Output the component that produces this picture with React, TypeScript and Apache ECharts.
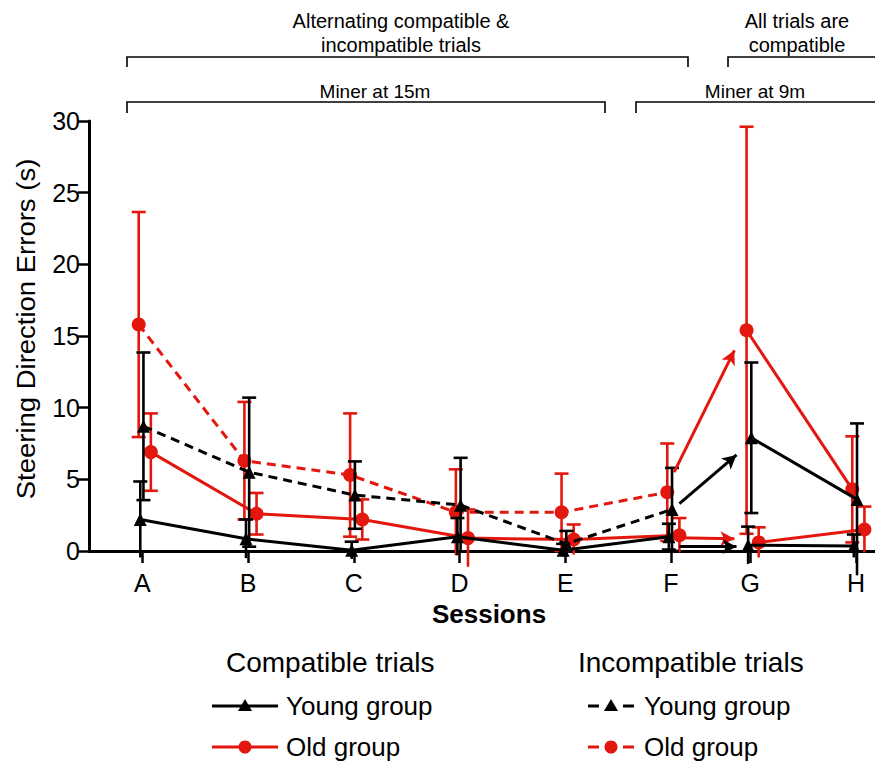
import React, { useEffect, useRef } from "react";
import * as echarts from "echarts";

// ---------- data ----------
const sessions = ["A", "B", "C", "D", "E", "F", "G", "H"];
const sessionPos = [0, 1, 2, 3, 4, 5, 5.75, 6.75];
const yTicks = [0, 5, 10, 15, 20, 25, 30];

// Sessions A–F
const compatYoungMean = [2.2, 0.85, 0.05, 1.0, 0.05, 1.0];
const compatYoungErr = [2.65, 1.35, 0.6, 1.3, 0.45, 0.9];
const compatOldMean = [6.9, 2.6, 2.2, 0.9, 0.8, 1.1];
const compatOldErr = [2.7, 1.45, 1.4, 2.0, 1.05, 1.2];
const incompYoungMean = [8.7, 5.5, 3.9, 3.2, 0.5, 2.9];
const incompYoungErr = [5.15, 5.2, 2.35, 3.3, 0.9, 2.9];
const incompOldMean = [15.8, 6.3, 5.3, 2.7, 2.7, 4.1];
const incompOldErr = [7.85, 4.1, 4.3, 3.0, 2.7, 3.4];

// Sessions G–H (all trials compatible)
const ghYoungHighMean = [7.9, 3.6];
const ghYoungHighErr = [5.25, 5.3];
const ghOldHighMean = [15.4, 4.3];
const ghOldHighErr = [14.2, 3.7];
const ghOldLowMean = [0.6, 1.5];
const ghOldLowErr = [1.05, 1.6];
const ghYoungLowMean = [0.4, 0.35];
const ghYoungLowErr = [1.3, 0.8];

// Arrows from F toward G
const arrowStartX = [5.03, 5.08, 5.05, 5.08];
const arrowStartY = [5.5, 3.3, 0.92, 0.33];
const arrowEndX = [5.6, 5.62, 5.6, 5.62];
const arrowEndY = [14.0, 6.7, 0.85, 0.3];
const arrowIsRed = [true, false, true, false];

// ---------- styles ----------
const RED = "#E3170D";
const BLACK = "#000000";
const FONT = "Liberation Sans, Arial, Helvetica, sans-serif";
const OFF_INC_OLD = -0.035;
const OFF_INC_YOUNG = 0.01;
const OFF_COMP_OLD = 0.08;
const OFF_COMP_YOUNG = -0.02;

function pts(idx: number[], means: number[], off: number) {
  return means.map((m, i) => [sessionPos[idx[i]] + off, m]);
}
function errPts(idx: number[], means: number[], errs: number[], off: number) {
  return means.map((m, i) => [sessionPos[idx[i]] + off, m - errs[i], m + errs[i]]);
}

function errorSeries(data: number[][], color: string, z: number) {
  return {
    type: "custom",
    data,
    z,
    clip: false,
    silent: true,
    renderItem: (params: any, api: any) => {
      const x = api.value(0);
      const lo = api.value(1);
      const hi = api.value(2);
      const pLo = api.coord([x, lo]);
      const pHi = api.coord([x, hi]);
      const hw = 7;
      const style = { stroke: color, lineWidth: 2.6 };
      const children: any[] = [
        { type: "line", shape: { x1: pLo[0], y1: pLo[1], x2: pHi[0], y2: pHi[1] }, style },
        { type: "line", shape: { x1: pHi[0] - hw, y1: pHi[1], x2: pHi[0] + hw, y2: pHi[1] }, style },
      ];
      if (lo >= 0) {
        children.push({ type: "line", shape: { x1: pLo[0] - hw, y1: pLo[1], x2: pLo[0] + hw, y2: pLo[1] }, style });
      }
      return { type: "group", children };
    },
  };
}

function lineSeries(data: number[][], color: string, dashed: boolean, symbol: string, z: number, markLine?: any) {
  const s: any = {
    type: "line",
    data,
    z,
    symbol,
    symbolSize: symbol === "triangle" ? 13 : 14,
    showSymbol: true,
    clip: false,
    itemStyle: { color },
    lineStyle: { color, width: 3, type: dashed ? [9, 6] : "solid" },
    silent: true,
  };
  if (markLine) s.markLine = markLine;
  return s;
}

const idxAF = [0, 1, 2, 3, 4, 5];
const idxGH = [6, 7];

function arrowMark(red: boolean) {
  const data: any[] = [];
  arrowStartX.forEach((sx, i) => {
    if (arrowIsRed[i] !== red) return;
    data.push([
      { coord: [sx, arrowStartY[i]] },
      { coord: [arrowEndX[i], arrowEndY[i]] },
    ]);
  });
  return {
    silent: true,
    symbol: ["none", "arrow"],
    symbolSize: [11, 14],
    label: { show: false },
    lineStyle: { color: red ? RED : BLACK, width: 3, type: "solid" },
    data,
  };
}

export default function App() {
  const ref = useRef<HTMLDivElement>(null);
  useEffect(() => {
    if (!ref.current) return;
    const chart = echarts.init(ref.current, undefined, { renderer: "svg" });

    const txt = (text: string, x: number, y: number, size: number, align = "center", extra: any = {}) => ({
      type: "text",
      x,
      y,
      ...extra,
      style: {
        text,
        fontFamily: FONT,
        fontSize: size,
        fill: "#000",
        align,
        verticalAlign: "middle",
        ...(extra.style || {}),
      },
    });
    const bracket = (points: number[][]) => ({
      type: "polyline",
      shape: { points },
      style: { stroke: "#000", lineWidth: 1.6, fill: "none" },
    });
    const lline = (x1: number, x2: number, y: number, color: string, dash?: number[]) => ({
      type: "line",
      shape: { x1, y1: y, x2, y2: y },
      style: { stroke: color, lineWidth: 3, lineDash: dash },
    });
    const tri = (cx: number, cy: number) => ({
      type: "polygon",
      shape: { points: [[cx, cy - 7], [cx - 7, cy + 5], [cx + 7, cy + 5]] },
      style: { fill: BLACK },
    });
    const dot = (cx: number, cy: number) => ({
      type: "circle",
      shape: { cx, cy, r: 6.5 },
      style: { fill: RED },
    });

    const graphic: any[] = [
      // top annotations
      txt("Alternating compatible &", 401, 21, 20),
      txt("incompatible trials", 401, 45, 20),
      bracket([[127, 67], [127, 57], [688, 57], [688, 67]]),
      txt("All trials are", 797, 21, 20),
      txt("compatible", 797, 45, 20),
      bracket([[728, 67], [728, 57], [876, 57]]),
      txt("Miner at 15m", 375, 91, 19),
      bracket([[127, 113], [127, 102], [605, 102], [605, 113]]),
      txt("Miner at 9m", 755, 91, 19),
      bracket([[636, 113], [636, 102], [876, 102]]),
      // axis titles
      txt("Steering Direction Errors (s)", 26, 329, 25, "center", { rotation: Math.PI / 2, scaleX: 1.1 }),
      txt("Sessions", 489, 614, 26, "center", { style: { fontWeight: "bold" } }),
      // legend
      txt("Compatible trials", 226, 662, 28, "left"),
      lline(212, 278, 706, BLACK),
      tri(245, 706),
      txt("Young group", 286, 706, 26, "left"),
      lline(212, 278, 747, RED),
      dot(245, 747),
      txt("Old group", 286, 747, 26, "left"),
      txt("Incompatible trials", 578, 662, 28, "left"),
      lline(588, 599, 706, BLACK),
      lline(623, 634, 706, BLACK),
      tri(611, 706),
      txt("Young group", 644, 706, 26, "left"),
      lline(588, 599, 747, RED),
      lline(623, 634, 747, RED),
      dot(611, 747),
      txt("Old group", 644, 747, 26, "left"),
    ];

    const fmtX = (v: number) => {
      const i = sessionPos.findIndex((p) => Math.abs(p - v) < 1e-6);
      return i >= 0 ? sessions[i] : "";
    };

    const option: any = {
      animation: false,
      backgroundColor: "#ffffff",
      grid: { left: 89, right: 0, top: 121, bottom: 210, containLabel: false },
      xAxis: {
        type: "value",
        min: -0.505,
        max: 6.93,
        splitLine: { show: false },
        axisLine: { show: true, onZero: true, lineStyle: { color: "#000", width: 3 } },
        axisTick: { show: true, customValues: sessionPos, length: 12, lineStyle: { color: "#000", width: 2.5 } },
        axisLabel: {
          show: true,
          customValues: sessionPos,
          formatter: fmtX,
          color: "#000",
          fontFamily: FONT,
          fontSize: 25,
          margin: 19,
        },
      },
      yAxis: {
        type: "value",
        min: 0,
        max: 30,
        interval: 5,
        splitLine: { show: false },
        axisLine: { show: true, onZero: false, lineStyle: { color: "#000", width: 3 } },
        axisTick: { show: true, length: 11, lineStyle: { color: "#000", width: 2.5 } },
        axisLabel: {
          color: "#000",
          fontFamily: FONT,
          fontSize: 25,
          margin: 9,
          customValues: yTicks,
        },
      },
      graphic,
      series: [
        // error bars
        errorSeries(errPts(idxAF, incompOldMean, incompOldErr, OFF_INC_OLD), RED, 2),
        errorSeries(errPts(idxAF, compatOldMean, compatOldErr, OFF_COMP_OLD), RED, 2),
        errorSeries(errPts(idxGH, ghOldHighMean, ghOldHighErr, OFF_INC_OLD), RED, 2),
        errorSeries(errPts(idxGH, ghOldLowMean, ghOldLowErr, OFF_COMP_OLD), RED, 2),
        errorSeries(errPts(idxAF, incompYoungMean, incompYoungErr, OFF_INC_YOUNG), BLACK, 4),
        errorSeries(errPts(idxAF, compatYoungMean, compatYoungErr, OFF_COMP_YOUNG), BLACK, 4),
        errorSeries(errPts(idxGH, ghYoungHighMean, ghYoungHighErr, OFF_INC_YOUNG), BLACK, 4),
        errorSeries(errPts(idxGH, ghYoungLowMean, ghYoungLowErr, OFF_COMP_YOUNG), BLACK, 4),
        // lines
        lineSeries(pts(idxAF, incompOldMean, OFF_INC_OLD), RED, true, "circle", 3, arrowMark(true)),
        lineSeries(pts(idxAF, compatOldMean, OFF_COMP_OLD), RED, false, "circle", 3),
        lineSeries(pts(idxGH, ghOldHighMean, OFF_INC_OLD), RED, false, "circle", 3),
        lineSeries(pts(idxGH, ghOldLowMean, OFF_COMP_OLD), RED, false, "circle", 3),
        lineSeries(pts(idxAF, incompYoungMean, OFF_INC_YOUNG), BLACK, true, "triangle", 5, arrowMark(false)),
        lineSeries(pts(idxAF, compatYoungMean, OFF_COMP_YOUNG), BLACK, false, "triangle", 5),
        lineSeries(pts(idxGH, ghYoungHighMean, OFF_INC_YOUNG), BLACK, false, "triangle", 5),
        lineSeries(pts(idxGH, ghYoungLowMean, OFF_COMP_YOUNG), BLACK, false, "triangle", 5),
      ],
    };
    chart.setOption(option);
    return () => chart.dispose();
  }, []);

  return (
    <div
      ref={ref}
      style={{ position: "fixed", left: 0, top: 0, width: 875, height: 761, background: "#fff" }}
    />
  );
}
